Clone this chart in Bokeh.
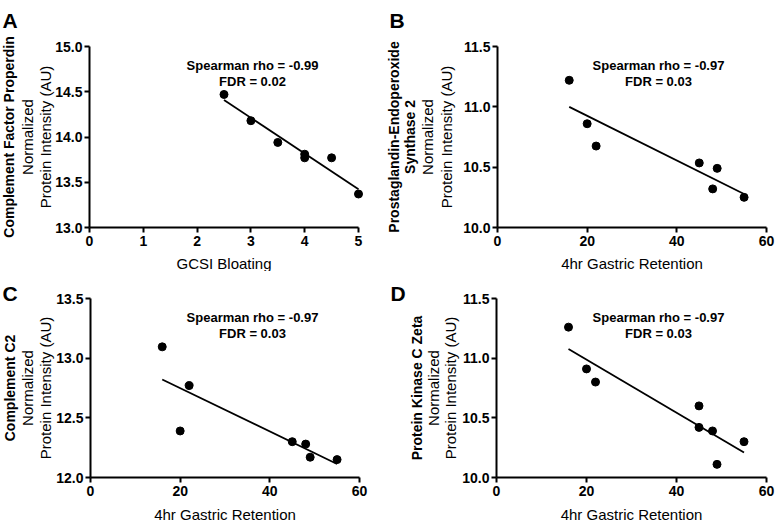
import math
import numpy as np
from bokeh.plotting import figure
from bokeh.models import Range1d, FixedTicker, Label
from bokeh.layouts import column, row
from bokeh.embed import file_html
from bokeh.resources import INLINE

FONT = "Liberation Sans"

# ---------------- data ----------------
A_x = [2.5, 3, 3.5, 4, 4, 4.5, 5]
A_y = [14.47, 14.18, 13.94, 13.81, 13.77, 13.77, 13.37]
B_x = [16, 20, 22, 45, 48, 49, 55]
B_y = [11.22, 10.86, 10.675, 10.535, 10.32, 10.49, 10.25]
C_x = [16, 20, 22, 45, 48, 49, 55]
C_y = [13.095, 12.39, 12.77, 12.30, 12.28, 12.17, 12.15]
D_x = [16, 20, 22, 45, 45, 48, 49, 55]
D_y = [11.26, 10.91, 10.80, 10.60, 10.42, 10.39, 10.11, 10.30]

A_xticks = [0, 1, 2, 3, 4, 5]
A_xtick_labels = ["0", "1", "2", "3", "4", "5"]
G_xticks = [0, 20, 40, 60]
G_xtick_labels = ["0", "20", "40", "60"]
A_yticks = [13.0, 13.5, 14.0, 14.5, 15.0]
A_ytick_labels = ["13.0", "13.5", "14.0", "14.5", "15.0"]
B_yticks = [10.0, 10.5, 11.0, 11.5]
B_ytick_labels = ["10.0", "10.5", "11.0", "11.5"]
C_yticks = [12.0, 12.5, 13.0, 13.5]
C_ytick_labels = ["12.0", "12.5", "13.0", "13.5"]
D_yticks = [10.0, 10.5, 11.0, 11.5]
D_ytick_labels = ["10.0", "10.5", "11.0", "11.5"]

letters = ["A", "B", "C", "D"]
protein_titles = [["Complement Factor Properdin"],
                  ["Prostaglandin-Endoperoxide", "Synthase 2"],
                  ["Complement C2"],
                  ["Protein Kinase C Zeta"]]
x_titles = ["GCSI Bloating", "4hr Gastric Retention",
            "4hr Gastric Retention", "4hr Gastric Retention"]
rho_texts = ["Spearman rho = -0.99", "Spearman rho = -0.97",
             "Spearman rho = -0.97", "Spearman rho = -0.97"]
fdr_texts = ["FDR = 0.02", "FDR = 0.03", "FDR = 0.03", "FDR = 0.03"]


def panel(i, x, y, xticks, xlabels, yticks, ylabels, box, axes_px, txt):
    ox, oy, W, H = box
    X0, X1, Y0, Y1 = axes_px  # image pixels: x of xmin, x of xmax, y of ymax, y of ymin
    X0 -= ox; X1 -= ox; Y0 -= oy; Y1 -= oy
    xmin, xmax = xticks[0], xticks[-1]
    ymin, ymax = yticks[0], yticks[-1]
    kx = (xmax - xmin) / (X1 - X0)
    ky = (ymax - ymin) / (Y1 - Y0)
    xr = Range1d(xmin - X0 * kx, xmax + (W - X1) * kx)
    yr = Range1d(ymin - (H - Y1) * ky, ymax + Y0 * ky)
    p = figure(width=W, height=H, x_range=xr, y_range=yr,
               output_backend="svg", toolbar_location=None, title=None,
               min_border=0, min_border_left=0, min_border_right=0,
               min_border_top=0, min_border_bottom=0)
    p.xgrid.visible = False
    p.ygrid.visible = False
    p.outline_line_color = None
    p.background_fill_color = "white"
    p.border_fill_color = "white"

    p.xaxis.ticker = FixedTicker(ticks=xticks)
    p.xaxis.major_label_overrides = {t: l for t, l in zip(xticks, xlabels)}
    p.xaxis.bounds = (xmin, xmax)
    p.xaxis.fixed_location = ymin
    p.yaxis.ticker = FixedTicker(ticks=yticks)
    p.yaxis.major_label_overrides = {t: l for t, l in zip(yticks, ylabels)}
    p.yaxis.bounds = (ymin, ymax)
    p.yaxis.fixed_location = xmin
    for ax in (p.xaxis[0], p.yaxis[0]):
        ax.axis_line_width = 2
        ax.axis_line_color = "black"
        ax.major_tick_line_width = 2
        ax.major_tick_line_color = "black"
        ax.major_tick_out = 5
        ax.major_tick_in = 0
        ax.minor_tick_line_color = None
        ax.major_label_text_font = FONT
        ax.major_label_text_font_style = "bold"
        ax.major_label_text_font_size = "14px"
        ax.major_label_text_color = "black"
    p.yaxis.major_label_standoff = 2
    p.xaxis.major_label_standoff = 3

    xs = np.array(x, dtype=float)
    ys = np.array(y, dtype=float)
    m, b = np.polyfit(xs, ys, 1)
    lx = np.array([xs.min(), xs.max()])
    p.line(lx, m * lx + b, line_color="black", line_width=1.8)
    p.scatter(xs, ys, size=8, fill_color="black", line_color="black")

    def lab(tx, px, py, size, style="normal", angle=0.0, align="center",
            baseline="middle"):
        p.add_layout(Label(x=px - ox, y=py - oy, x_units="canvas",
                           y_units="canvas", text=tx, text_font=FONT,
                           text_font_size=size, text_font_style=style,
                           text_color="black", angle=angle, text_align=align,
                           text_baseline=baseline))

    lx_, ly_ = txt["letter"]
    lab(letters[i], lx_, ly_, "21px", "bold", align="left",
        baseline="alphabetic")
    yc = (Y0 + Y1) / 2 + oy
    for tx, cx in zip(protein_titles[i], txt["titles"]):
        lab(tx, cx, yc, "14px", "bold", angle=math.pi / 2)
    lab("Normalized", txt["norm"], yc, "15px", angle=math.pi / 2)
    lab("Protein Intensity (AU)", txt["prot"], yc, "15px", angle=math.pi / 2)
    lab(x_titles[i], (X0 + X1) / 2 + ox, txt["xlab"], "15px")
    sx, sy1, sy2 = txt["stats"]
    lab(rho_texts[i], sx, sy1, "13px", "bold")
    lab(fdr_texts[i], sx, sy2, "13px", "bold")
    return p


pA = panel(0, A_x, A_y, A_xticks, A_xtick_labels, A_yticks, A_ytick_labels,
           (0, 0, 374, 271), (89, 358, 46, 227),
           dict(letter=(2, 20), titles=[8], norm=27, prot=45, xlab=263,
                stats=(252, 65, 81)))
pB = panel(1, B_x, B_y, G_xticks, G_xtick_labels, B_yticks, B_ytick_labels,
           (374, 0, 403, 271), (497, 766, 46, 227),
           dict(letter=(389, 20), titles=[393, 409], norm=427, prot=446,
                xlab=263, stats=(658, 65, 81)))
pC = panel(2, C_x, C_y, G_xticks, G_xtick_labels, C_yticks, C_ytick_labels,
           (0, 271, 374, 252), (90, 359, 298, 477),
           dict(letter=(2, 293), titles=[9], norm=27, prot=45, xlab=514,
                stats=(252, 317, 333)))
pD = panel(3, D_x, D_y, G_xticks, G_xtick_labels, D_yticks, D_ytick_labels,
           (374, 271, 403, 252), (496, 766, 298, 477),
           dict(letter=(390, 293), titles=[416], norm=433, prot=450,
                xlab=514, stats=(658, 317, 333)))

layout = column(row(pA, pB), row(pC, pD))
open("out.html", "w").write(file_html(layout, INLINE))
